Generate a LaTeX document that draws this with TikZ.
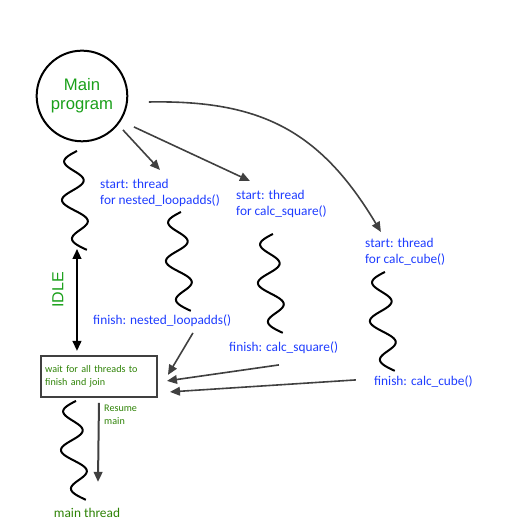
\documentclass[tikz,border=0pt]{standalone}
\usepackage{fontspec}
\setmainfont{Carlito}
\newfontfamily\arialfont{Liberation Sans}
\usetikzlibrary{arrows.meta,calc}
\definecolor{lblblue}{RGB}{30,60,255}
\definecolor{maingreen}{RGB}{26,160,26}
\definecolor{darkgreen}{RGB}{45,130,5}
\definecolor{arrgray}{RGB}{64,64,64}
\tikzset{
  wave/.pic={\draw[line width=1.5pt] plot[domain=0:1,samples=80,smooth] ({10*\x-9*sin(180*\x)-11*sin(900*\x)},{-99*\x});},
  arr/.style={draw=arrgray,line width=1.2pt,-{Triangle[length=7.5pt,width=6.5pt]}},
  bluelbl/.style={text=lblblue,font=\fontsize{10}{12}\selectfont,align=left,inner sep=0pt,anchor=west},
}

\begin{document}
\begin{tikzpicture}[x=0.75pt,y=0.75pt,yscale=-1,xscale=1]
\path (0,0) rectangle (522,522); %set diagram to 522 by 522

%Shape: Circle
\draw (82,96) node (main) [circle,draw,line width=1.5pt,minimum size=68pt,inner sep=0pt,text=maingreen,align=center,font=\arialfont\fontsize{12.5}{14.25}\selectfont] {Main\\program};

%Threads (wavy lines)
\draw (77,151) pic (w1) {wave};
\draw (181,212) pic (w2) {wave};
\draw (273,234) pic (w3) {wave};
\draw (385,272) pic (w4) {wave};
\draw (76,401) pic (w5) {wave};

%Arrow end points
\coordinate (sA) at (123,130);
\coordinate (eA) at (160,170);
\coordinate (sB) at (134,127);
\coordinate (eB) at (250,181);
\coordinate (sC) at (149,102);
\coordinate (eC) at (381,232);
\coordinate (fA) at (193,333);
\coordinate (jA) at (168,375);
\coordinate (fB) at (279,365);
\coordinate (jB) at (167,381);
\coordinate (fC) at (356,380);
\coordinate (jC) at (170,392);
\coordinate (idleTop) at (77,249);
\coordinate (idleBot) at (77,351);
\coordinate (resTop) at (99,403);
\coordinate (resBot) at (98,482);

%Straight Lines
\draw [arr] (sA) -- (eA);
\draw [arr] (sB) -- (eB);
%Curve Lines
\draw [arr] (sC) .. controls (260,100) and (320,130) .. (eC);

%Double arrow
\draw [line width=1.5pt,{Triangle[length=7.5pt,width=6.5pt]}-{Triangle[length=7.5pt,width=6.5pt]}] (idleTop) -- (idleBot);

%Shape: Rectangle
\draw (40,355) node (wait) [anchor=north west,draw=arrgray,line width=1.8pt,minimum height=30.75pt,text width=81pt,inner xsep=3pt,inner ysep=2pt,align=left,text=darkgreen,font=\fontsize{7.6}{9.75}\selectfont] {wait for all threads to\\finish and join};

%Join arrows
\draw [arr] (fA) -- (jA);
\draw [arr] (fB) -- (jB);
\draw [arr] (fC) -- (jC);
\draw [arr,line width=1.5pt] (resTop) -- (resBot);

% Text Node
\draw (100,193) node (startA) [bluelbl] {start: thread\\for nested\_loopadds()};
% Text Node
\draw (236,204) node (startB) [bluelbl] {start: thread\\for calc\_square()};
% Text Node
\draw (365,252) node (startC) [bluelbl] {start: thread\\for calc\_cube()};
% Text Node
\draw (93,321) node (finA) [bluelbl] {finish: nested\_loopadds()};
% Text Node
\draw (229,348) node (finB) [bluelbl] {finish: calc\_square()};
% Text Node
\draw (374,382) node (finC) [bluelbl] {finish: calc\_cube()};
% Text Node
\draw (58,290) node (idle) [rotate=90,text=maingreen,font=\arialfont\fontsize{12}{14}\selectfont] {IDLE};
% Text Node
\draw (104,414.5) node (resume) [anchor=west,inner sep=0pt,align=left,text=darkgreen,font=\fontsize{7.6}{9.75}\selectfont] {Resume\\main};
% Text Node
\draw (87,513) node (mthread) [text=darkgreen,font=\fontsize{10}{12}\selectfont] {main thread};

\end{tikzpicture}
\end{document}
